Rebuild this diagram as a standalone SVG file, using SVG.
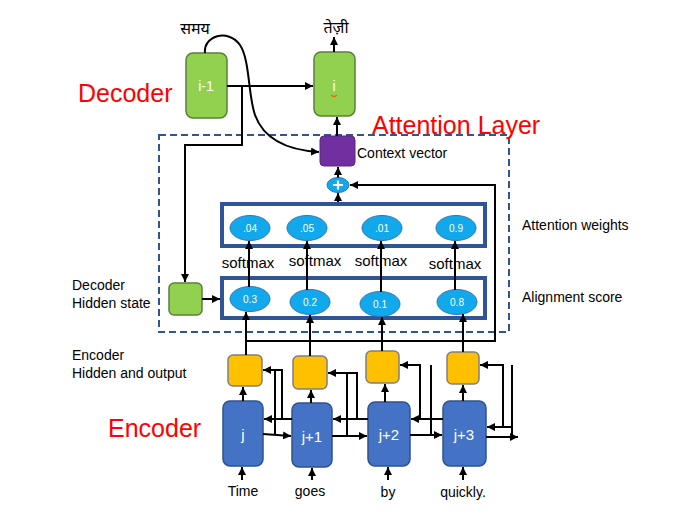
<svg xmlns="http://www.w3.org/2000/svg" width="688" height="521" viewBox="0 0 688 521">
<defs>
<marker id="ah" viewBox="0 0 10 10" refX="10" refY="5" markerWidth="4" markerHeight="4" orient="auto" markerUnits="strokeWidth">
<path d="M0,0 L10,5 L0,10 z" fill="#000"/>
</marker>
<style>
.ln{stroke:#000;stroke-width:2;fill:none}
.ar{stroke:#000;stroke-width:2;fill:none;marker-end:url(#ah)}
.green{fill:#92D050;stroke:#5B7F3A;stroke-width:1.5}
.yellow{fill:#FFC000;stroke:#7F7F7F;stroke-width:1.5}
.blue{fill:#4472C4;stroke:#2F528F;stroke-width:1.5}
.frame{fill:#fff;stroke:#2F5597;stroke-width:4}
.ell{fill:#12A8EC;stroke:#2E75B6;stroke-width:1}
.t{font-family:"Liberation Sans",Arial,sans-serif;fill:#000}
.wt{font-family:"Liberation Sans",Arial,sans-serif;fill:#fff;text-anchor:middle}
.red{font-family:"Liberation Sans",Arial,sans-serif;fill:#FF0000;font-size:25px}
.dev{font-family:"Noto Sans Devanagari","Lohit Devanagari","FreeSans","Noto Sans",sans-serif;font-size:16px;fill:#000;text-anchor:middle}
</style>
</defs>
<rect width="688" height="521" fill="#fff"/>

<!-- attention layer dashed frame -->
<rect x="159" y="135" width="350" height="197" fill="none" stroke="#2F5597" stroke-width="2" stroke-dasharray="7,4"/>

<!-- titles -->
<text class="red" x="78" y="102">Decoder</text>
<text class="red" x="108" y="437">Encoder</text>
<text class="red" x="372" y="134" font-size="25.5">Attention Layer</text>

<!-- side labels -->
<g class="t" font-size="14">
<text x="72" y="290">Decoder</text>
<text x="72" y="308">Hidden state</text>
<text x="72" y="360">Encoder</text>
<text x="72" y="378">Hidden and output</text>
<text x="522" y="230">Attention weights</text>
<text x="522" y="302">Alignment score</text>
</g>

<!-- decoder nodes -->
<g id="dec-prev">
<rect class="green" x="186" y="53" width="41" height="65" rx="7"/>
<text class="wt" x="206" y="91" font-size="14">i-1</text>
</g>
<g id="dec-cur">
<rect class="green" x="314" y="52" width="41" height="64" rx="7"/>
<text class="wt" x="334" y="91" font-size="14">i</text>
<path d="M331,95 Q334,98 337,95" fill="none" stroke="#E36C0A" stroke-width="1.2"/>
</g>
<g id="word-samay"><text class="dev" x="195" y="34">समय</text></g>
<g id="word-tezi"><text class="dev" x="336" y="33">तेज़ी</text></g>

<g id="context">
<rect x="320" y="136" width="35" height="30" rx="4" fill="#7030A0" stroke="#5A2680" stroke-width="1"/>
<text class="t" x="357" y="158" font-size="14">Context vector</text>
</g>
<g id="plus">
<ellipse cx="338" cy="185" rx="11" ry="7.5" class="ell"/>
<path d="M333,185 H343 M338,180.5 V189.5" stroke="#fff" stroke-width="2.2"/>
</g>

<g id="weights">
<rect class="frame" x="222" y="204" width="263" height="42"/>
<ellipse class="ell" cx="250" cy="228" rx="20" ry="12.5"/>
<ellipse class="ell" cx="307" cy="228" rx="20" ry="12.5"/>
<ellipse class="ell" cx="382" cy="228" rx="20" ry="12.5"/>
<ellipse class="ell" cx="456" cy="228" rx="20" ry="12.5"/>
<g font-size="10">
<text class="wt" x="250" y="232">.04</text>
<text class="wt" x="307" y="232">.05</text>
<text class="wt" x="382" y="232">.01</text>
<text class="wt" x="456" y="232">0.9</text>
</g>
</g>

<g id="alignment">
<rect class="frame" x="222" y="278" width="263" height="40"/>
<ellipse class="ell" cx="250" cy="299" rx="20" ry="12.5"/>
<ellipse class="ell" cx="310" cy="302" rx="20" ry="12.5"/>
<ellipse class="ell" cx="380" cy="304" rx="20" ry="12.5"/>
<ellipse class="ell" cx="457" cy="302" rx="20" ry="12.5"/>
<g font-size="10">
<text class="wt" x="250" y="303">0.3</text>
<text class="wt" x="310" y="306">0.2</text>
<text class="wt" x="380" y="308">0.1</text>
<text class="wt" x="457" y="306">0.8</text>
</g>
</g>

<g id="softmax-labels" class="t" font-size="15" text-anchor="middle">
<text x="248" y="268" text-anchor="middle">softmax</text>
<text x="315" y="266" text-anchor="middle">softmax</text>
<text x="381" y="266" text-anchor="middle">softmax</text>
<text x="455" y="269" text-anchor="middle">softmax</text>
</g>

<g id="dec-hidden"><rect class="green" x="169" y="283" width="33" height="32" rx="5"/></g>

<g id="y1"><rect class="yellow" x="228" y="355" width="34" height="31" rx="5"/></g>
<g id="y2"><rect class="yellow" x="293" y="356" width="34" height="33" rx="5"/></g>
<g id="y3"><rect class="yellow" x="366" y="351" width="33" height="32" rx="5"/></g>
<g id="y4"><rect class="yellow" x="447" y="352" width="32" height="32" rx="5"/></g>

<g id="enc-j"><rect class="blue" x="223" y="401" width="40" height="65" rx="7"/><text class="wt" x="243" y="440" font-size="15">j</text></g>
<g id="enc-j1"><rect class="blue" x="292" y="403" width="40" height="64" rx="7"/><text class="wt" x="312" y="442" font-size="15">j+1</text></g>
<g id="enc-j2"><rect class="blue" x="368" y="402" width="42" height="64" rx="7"/><text class="wt" x="389" y="440" font-size="15">j+2</text></g>
<g id="enc-j3"><rect class="blue" x="443" y="401" width="43" height="65" rx="7"/><text class="wt" x="464" y="440" font-size="15">j+3</text></g>

<g id="words" class="t" font-size="14" text-anchor="middle">
<text x="243" y="496" text-anchor="middle">Time</text>
<text x="310" y="496" text-anchor="middle">goes</text>
<text x="388" y="497" text-anchor="middle">by</text>
<text x="463" y="497" text-anchor="middle">quickly.</text>
</g>

<!-- connectors -->
<g id="connectors">
<path class="ar" d="M334,52 V37"/>
<path class="ar" d="M227,86 H313"/>
<path class="ar" d="M205,53 C203,36 228,28 240,45 C250,60 248,95 255,115 C263,137 285,150 319,152"/>
<path class="ar" d="M242,86 V145 H185 V282"/>
<path class="ar" d="M202,299 H220"/>
<path class="ar" d="M337,136 V117"/>
<path class="ar" d="M338,177.5 V167"/>
<path class="ar" d="M338,202 V193"/>
<path class="ar" d="M246,341 H495 V185 H350"/>
<!-- softmax arrows -->
<path class="ar" d="M249,287 V241"/>
<path class="ar" d="M307,290 V241"/>
<path class="ar" d="M381,292 V241"/>
<path class="ar" d="M455,290 V241"/>
<!-- yellow to alignment -->
<path class="ar" d="M246,355 V312"/>
<path class="ar" d="M310,356 V315"/>
<path class="ar" d="M382,351 V317"/>
<path class="ar" d="M463,352 V314"/>
<!-- blue to yellow -->
<path class="ar" d="M243,401 V387"/>
<path class="ar" d="M311,403 V390"/>
<path class="ar" d="M385,402 V384"/>
<path class="ar" d="M463,401 V385"/>
<!-- inputs -->
<path class="ar" d="M242,480 V467"/>
<path class="ar" d="M312,480 V468"/>
<path class="ar" d="M388,480 V467"/>
<path class="ar" d="M463,480 V467"/>
<!-- forward -->
<path class="ar" d="M263,434 L291,436"/>
<path class="ar" d="M332,436 H367"/>
<path class="ar" d="M410,435 H442"/>
<path class="ar" d="M486,437 H518"/>
<!-- backward -->
<path class="ar" d="M292,419 H264"/>
<path class="ar" d="M368,419 H333"/>
<path class="ar" d="M443,419 H411"/>
<path class="ar" d="M513,427 H487"/>
<!-- into yellow sides -->
<path class="ar" d="M282,419 V370 H263"/>
<path class="ln" d="M275,435 V370"/>
<path class="ar" d="M357,419 V373 H328"/>
<path class="ln" d="M347,436 V373"/>
<path class="ar" d="M420,419 V365 H400"/>
<path class="ln" d="M431,435 V365"/>
<path class="ar" d="M503,427 V365 H480"/>
<path class="ln" d="M512,437 V365"/>
</g>
</svg>
